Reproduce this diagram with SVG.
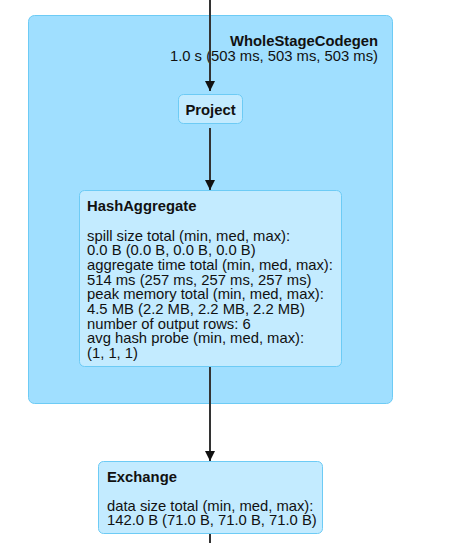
<svg xmlns="http://www.w3.org/2000/svg" width="460" height="543" viewBox="0 0 460 543">
<style>
.cluster{fill:#A0DFFF;stroke:#6DCBF5;stroke-width:1}
.node{fill:#C3EBFF;stroke:#6DCBF5;stroke-width:1}
.edge{stroke:#333;stroke-width:2;fill:none}
text{font-family:"Liberation Sans",Arial,sans-serif;font-size:14.8px;fill:#111}
.b{font-weight:bold}
</style>
<defs>
<marker id="arrow" markerWidth="10" markerHeight="10" refX="10" refY="5" orient="auto" markerUnits="userSpaceOnUse">
<path d="M0,0 L10,5 L0,10 z" fill="#111"/>
</marker>
</defs>
<rect width="460" height="543" fill="#fff"/>
<g id="cluster-wsc">
<rect class="cluster" x="28.5" y="15.5" width="364" height="388" rx="6"/>
<text class="b" x="378" y="46" text-anchor="end">WholeStageCodegen</text>
<text x="378" y="61" text-anchor="end">1.0 s (503 ms, 503 ms, 503 ms)</text>
</g>
<g id="edges">
<line class="edge" x1="210" y1="0" x2="210" y2="91" marker-end="url(#arrow)"/>
<line class="edge" x1="210" y1="128" x2="210" y2="190" marker-end="url(#arrow)"/>
<line class="edge" x1="210" y1="366" x2="210" y2="461" marker-end="url(#arrow)"/>
<line class="edge" x1="210" y1="533" x2="210" y2="543"/>
</g>
<g id="node-project">
<rect class="node" x="178.5" y="94.5" width="64" height="29" rx="5"/>
<text class="b" x="210.5" y="115" text-anchor="middle">Project</text>
</g>
<g id="node-hashaggregate">
<rect class="node" x="79.5" y="190.5" width="262" height="176" rx="5"/>
<text class="b" x="87" y="210.5">HashAggregate</text>
<text x="87" y="240.5">spill size total (min, med, max):</text>
<text x="87" y="255.2">0.0 B (0.0 B, 0.0 B, 0.0 B)</text>
<text x="87" y="269.9">aggregate time total (min, med, max):</text>
<text x="87" y="284.6">514 ms (257 ms, 257 ms, 257 ms)</text>
<text x="87" y="299.3">peak memory total (min, med, max):</text>
<text x="87" y="314">4.5 MB (2.2 MB, 2.2 MB, 2.2 MB)</text>
<text x="87" y="328.7">number of output rows: 6</text>
<text x="87" y="343.4">avg hash probe (min, med, max):</text>
<text x="87" y="358.1">(1, 1, 1)</text>
</g>
<g id="node-exchange">
<rect class="node" x="98.5" y="461.5" width="224" height="72" rx="5"/>
<text class="b" x="107" y="481.5">Exchange</text>
<text x="107" y="510.5">data size total (min, med, max):</text>
<text x="107" y="525.2">142.0 B (71.0 B, 71.0 B, 71.0 B)</text>
</g>
</svg>
